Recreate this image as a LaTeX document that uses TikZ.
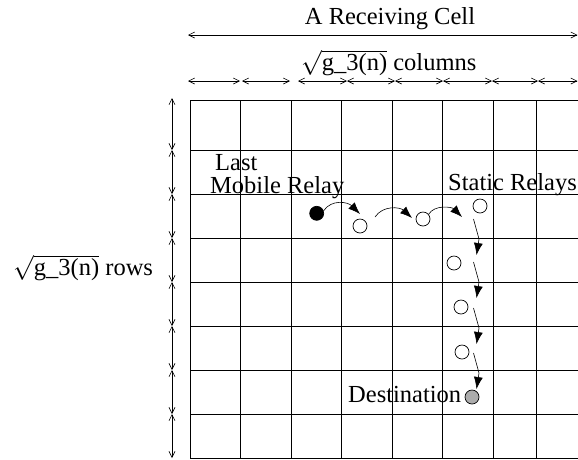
\documentclass[tikz,border=0pt]{standalone}
\usepackage{amsmath}
\usepackage{fontspec}
\setmainfont{Liberation Serif}
\usetikzlibrary{arrows.meta}
\begin{document}
\begin{tikzpicture}[x=1pt,y=-1pt,
  gridline/.style={line width=0.7pt, black},
  dim/.style={line width=0.6pt, {Straight Barb[length=6pt,width=6pt]}-{Straight Barb[length=6pt,width=6pt]}},
  relay/.style={circle, draw, line width=0.7pt, minimum size=14pt, inner sep=0pt},
  flow/.style={line width=0.6pt, -{Latex[length=12pt,width=9pt]}},
  lbl/.style={font=\fontsize{24.5}{28}\selectfont, inner sep=0pt, anchor=base west}]
\useasboundingbox (0,0) rectangle (578,459);
% grid
\foreach \x in {190,240.5,291,341.5,392,442.5,493,536.5}
  \draw[gridline] (\x,100) -- (\x,458);
\foreach \y in {100,150,194,238,282,326,370,414,458}
  \draw[gridline] (190,\y) -- (578,\y);
% dimension arrows
\draw[dim] (188,35) -- (577.5,35);
\foreach \a/\b in {188/240,242/290,298/347,347/395,395/443,443/492,492/538,538/577.5}
  \draw[dim] (\a,81) -- (\b,81);
\foreach \a/\b in {98/150,150/194,194/238,238/282,282/326,326/370,370/414,414/458}
  \draw[dim] (172,\a) -- (172,\b);
% labels
\node[lbl, anchor=base] (title) at (390,24) {A Receiving Cell};
\node[lbl] (cols) at (301,70) {\smash{$\sqrt{\text{g\_3(n)}}$} columns};
\node[lbl] (rows) at (13,275) {\smash{$\sqrt{\text{g\_3(n)}}$} rows};
\node[lbl] (last) at (215,170) {Last};
\node[lbl] (mobile) at (210,193) {Mobile Relay};
\node[lbl] (static) at (448,190) {Static Relays};
\node[lbl] (dest) at (348,402) {Destination};
% relays
\node[relay, fill=black] (m) at (316.7,213.3) {};
\node[relay] (s1) at (360,226) {};
\node[relay] (s2) at (423,219) {};
\node[relay] (s3) at (480,206) {};
\node[relay] (s4) at (454,263) {};
\node[relay] (s5) at (461,307) {};
\node[relay] (s6) at (462,352) {};
\node[relay, fill=gray!65] (d) at (472,397) {};
% connector end points
\coordinate (e1) at (360,214);
\coordinate (b2) at (375,217);
\coordinate (e2) at (412,218);
\coordinate (e3) at (462,217);
\foreach \i/\s in {1/219,2/262,3/308,4/353} {
  \coordinate (vs\i) at (473.5,\s);
  \coordinate (vk\i) at (479,\s+20);
  \coordinate (ve\i) at (476.5,\s+36);
}
% flow arrows
\draw[flow] (m.20) .. controls +(8,-12) and +(-12,-12) .. (e1);
\draw[flow] (b2) .. controls +(8,-12) and +(-12,-11) .. (e2);
\draw[flow] (s2.40) .. controls +(6,-10) and +(-10,-10) .. (e3);
\foreach \i in {1,2,3,4}
  \draw[flow] (vs\i) -- (vk\i) -- (ve\i);
\end{tikzpicture}
\end{document}
